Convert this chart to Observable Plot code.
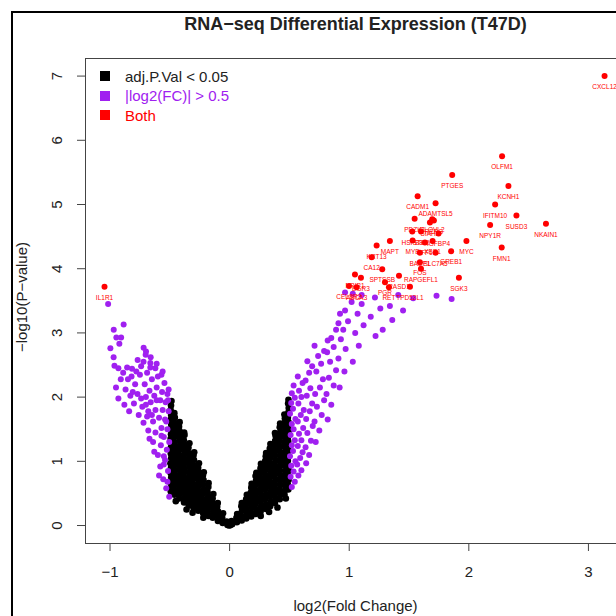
<!DOCTYPE html>
<html>
<head>
<meta charset="utf-8">
<script src="https://cdn.jsdelivr.net/npm/d3@7"></script>
<script src="https://cdn.jsdelivr.net/npm/@observablehq/plot@0.6"></script>
<style>
  html, body { margin: 0; padding: 0; background: #fff; }
  #wrap { position: relative; width: 616px; height: 616px; overflow: hidden; background: #fff; font-family: "Liberation Sans", Arial, Helvetica, sans-serif; }
  #outer { position: absolute; left: 11px; top: 11px; width: 720px; height: 720px; border-left: 2px solid #000; border-top: 2px solid #000; }
  #chart { position: absolute; left: 0; top: 0; width: 626px; }
  #chart svg { max-width: none !important; }
  .lg { position: absolute; left: 100px; height: 18px; display: flex; align-items: center; font-size: 15px; white-space: nowrap; }
  .lg span.sq { display: inline-block; width: 10px; height: 10px; margin-right: 15px; }
</style>
</head>
<body>
<div id="wrap">
  <div id="outer"></div>
  <div id="chart"></div>
  <div id="legend"></div>
</div>
<script>
// ---------- data ----------
const chartTitle = "RNA\u2212seq Differential Expression (T47D)";
const xTitle = "log2(Fold Change)";
const yTitle = "\u2212log10(P\u2212value)";
const xTicks = [-1, 0, 1, 2, 3];
const yTicks = [0, 1, 2, 3, 4, 5, 6, 7];

const legendLabels = ["adj.P.Val < 0.05", "|log2(FC)| > 0.5", "Both"];
const legendColors = ["#000000", "#A020F0", "#FF0000"];

// black: non-significant cloud [log2FC, -log10 P]
const blackPts = [
  [-0.005,0.0],[0.005,0.005],
  [-0.018,0.01],[-0.025,0.06],
  [-0.058,0.04],[-0.062,0.12],[-0.055,0.19],
  [-0.098,0.07],[-0.103,0.15],[-0.097,0.22],[-0.104,0.29],[-0.099,0.35],
  [-0.141,0.12],[-0.137,0.19],[-0.143,0.27],[-0.138,0.34],[-0.142,0.42],[-0.136,0.49],
  [-0.178,0.15],[-0.183,0.22],[-0.177,0.30],[-0.182,0.37],[-0.179,0.45],[-0.184,0.52],[-0.178,0.60],[-0.176,0.66],
  [-0.221,0.19],[-0.218,0.26],[-0.223,0.34],[-0.219,0.41],[-0.224,0.49],[-0.217,0.56],[-0.222,0.64],[-0.218,0.71],[-0.223,0.78],[-0.216,0.83],
  [-0.262,0.23],[-0.258,0.30],[-0.263,0.38],[-0.257,0.45],[-0.261,0.53],[-0.264,0.60],[-0.259,0.68],[-0.262,0.75],[-0.257,0.83],[-0.263,0.90],[-0.256,0.97],
  [-0.301,0.27],[-0.297,0.34],[-0.303,0.42],[-0.298,0.49],[-0.302,0.57],[-0.299,0.64],[-0.304,0.72],[-0.297,0.79],[-0.301,0.87],[-0.303,0.94],[-0.298,1.02],[-0.302,1.09],[-0.296,1.14],
  [-0.342,0.31],[-0.338,0.38],[-0.343,0.46],[-0.337,0.53],[-0.341,0.61],[-0.344,0.68],[-0.339,0.76],[-0.342,0.83],[-0.337,0.91],[-0.343,0.98],[-0.338,1.06],[-0.341,1.13],[-0.344,1.21],[-0.336,1.28],
  [-0.381,0.36],[-0.377,0.43],[-0.383,0.51],[-0.378,0.58],[-0.382,0.66],[-0.379,0.73],[-0.384,0.81],[-0.377,0.88],[-0.381,0.96],[-0.383,1.03],[-0.378,1.11],[-0.382,1.18],[-0.379,1.26],[-0.383,1.33],[-0.377,1.41],[-0.380,1.45],
  [-0.421,0.42],[-0.418,0.49],[-0.423,0.57],[-0.419,0.64],[-0.422,0.72],[-0.417,0.79],[-0.424,0.87],[-0.419,0.94],[-0.421,1.02],[-0.418,1.09],[-0.423,1.17],[-0.420,1.24],[-0.417,1.32],[-0.422,1.39],[-0.419,1.47],[-0.423,1.54],[-0.418,1.61],
  [-0.461,0.48],[-0.457,0.55],[-0.463,0.63],[-0.458,0.70],[-0.462,0.78],[-0.459,0.85],[-0.464,0.93],[-0.457,1.00],[-0.461,1.08],[-0.463,1.15],[-0.458,1.23],[-0.462,1.30],[-0.459,1.38],[-0.463,1.45],[-0.457,1.53],[-0.461,1.60],[-0.458,1.68],[-0.462,1.75],
  [-0.492,0.53],[-0.489,0.60],[-0.494,0.67],[-0.488,0.75],[-0.493,0.82],[-0.490,0.90],[-0.495,0.97],[-0.488,1.05],[-0.492,1.12],[-0.494,1.20],[-0.489,1.27],[-0.493,1.35],[-0.490,1.42],[-0.494,1.50],[-0.488,1.57],[-0.492,1.65],[-0.489,1.72],[-0.493,1.80],[-0.490,1.87],[-0.486,1.94],
  [-0.36,0.25],[-0.22,0.12],[-0.45,0.38],[-0.31,0.20],
  [-0.079,0.11],[-0.12,0.25],[-0.16,0.40],[-0.20,0.55],[-0.24,0.70],[-0.28,0.86],[-0.32,1.00],[-0.36,1.15],[-0.40,1.30],[-0.44,1.47],[-0.475,1.62],
  [-0.20,0.30],[-0.28,0.45],[-0.36,0.60],[-0.44,0.75],[-0.32,0.70],[-0.40,0.90],[-0.44,1.10],[-0.475,1.30],[-0.475,0.95],[-0.40,0.55],
  [0.021,0.02],[0.016,0.07],
  [0.061,0.05],[0.057,0.12],[0.063,0.18],
  [0.101,0.08],[0.097,0.15],[0.103,0.23],[0.098,0.30],[0.102,0.35],
  [0.139,0.11],[0.143,0.18],[0.137,0.26],[0.142,0.33],[0.138,0.41],[0.144,0.48],
  [0.181,0.14],[0.177,0.21],[0.183,0.29],[0.178,0.36],[0.182,0.44],[0.176,0.51],[0.181,0.59],[0.184,0.65],
  [0.219,0.18],[0.223,0.25],[0.217,0.33],[0.222,0.40],[0.218,0.48],[0.224,0.55],[0.219,0.63],[0.221,0.70],[0.217,0.77],[0.223,0.82],
  [0.259,0.22],[0.263,0.29],[0.257,0.37],[0.262,0.44],[0.258,0.52],[0.264,0.59],[0.260,0.67],[0.256,0.74],[0.263,0.82],[0.258,0.89],[0.262,0.96],
  [0.299,0.26],[0.303,0.33],[0.297,0.41],[0.302,0.48],[0.298,0.56],[0.304,0.63],[0.299,0.71],[0.301,0.78],[0.297,0.86],[0.303,0.93],[0.298,1.01],[0.302,1.08],[0.305,1.13],
  [0.339,0.30],[0.343,0.37],[0.337,0.45],[0.342,0.52],[0.338,0.60],[0.344,0.67],[0.339,0.75],[0.341,0.82],[0.337,0.90],[0.343,0.97],[0.338,1.05],[0.342,1.12],[0.336,1.20],[0.341,1.27],
  [0.379,0.35],[0.383,0.42],[0.377,0.50],[0.382,0.57],[0.378,0.65],[0.384,0.72],[0.379,0.80],[0.381,0.87],[0.377,0.95],[0.383,1.02],[0.378,1.10],[0.382,1.17],[0.376,1.25],[0.381,1.32],[0.384,1.40],[0.379,1.44],
  [0.419,0.41],[0.423,0.48],[0.417,0.56],[0.422,0.63],[0.418,0.71],[0.424,0.78],[0.419,0.86],[0.421,0.93],[0.417,1.01],[0.423,1.08],[0.418,1.16],[0.422,1.23],[0.416,1.31],[0.421,1.38],[0.424,1.46],[0.419,1.53],[0.422,1.59],
  [0.459,0.48],[0.463,0.55],[0.457,0.63],[0.462,0.70],[0.458,0.78],[0.464,0.85],[0.459,0.93],[0.461,1.00],[0.457,1.08],[0.463,1.15],[0.458,1.23],[0.462,1.30],[0.456,1.38],[0.461,1.45],[0.464,1.53],[0.459,1.60],[0.462,1.67],[0.458,1.73],
  [0.491,0.56],[0.488,0.63],[0.493,0.71],[0.489,0.78],[0.494,0.86],[0.490,0.93],[0.487,1.01],[0.492,1.08],[0.489,1.16],[0.494,1.23],[0.490,1.31],[0.488,1.38],[0.493,1.46],[0.489,1.53],[0.492,1.61],[0.487,1.68],[0.491,1.76],[0.494,1.83],[0.489,1.90],[0.492,1.96],
  [0.26,0.15],[0.40,0.28],[0.47,0.42],[0.33,0.21],
  [0.079,0.11],[0.12,0.25],[0.16,0.40],[0.20,0.55],[0.24,0.70],[0.28,0.85],[0.32,1.00],[0.36,1.15],[0.40,1.30],[0.44,1.45],[0.475,1.62],
  [0.20,0.30],[0.28,0.45],[0.36,0.60],[0.44,0.75],[0.32,0.70],[0.40,0.90],[0.44,1.10],[0.475,1.30],[0.475,0.95],[0.40,0.55]
];

// purple: |log2FC| > 0.5 only
const purplePts = [
  [-1.016,3.45],[-0.886,3.13],[-0.969,3.05],[-0.947,2.93],[-0.907,2.93],[-0.922,2.83],[-0.997,2.76],[-0.719,2.77],[-0.699,2.71],[-0.702,2.66],[-0.769,2.58],[-0.663,2.53],[-0.963,2.49],[-0.857,2.46],[-0.816,2.44],[-0.663,2.46],[-0.621,2.45],
  [-0.93,1.98],[-0.88,1.88],[-0.84,1.78],[-0.95,2.15],[-0.91,2.28],[-0.87,2.12],[-0.83,2.02],[-0.80,1.90],[-0.79,2.20],[-0.82,2.32],[-0.76,1.72],[-0.77,2.05],[-0.75,2.35],[-0.74,2.48],[-0.73,1.85],[-0.72,1.60],[-0.71,2.20],[-0.70,2.00],[-0.69,2.38],[-0.68,1.48],[-0.68,1.78],[-0.67,2.10],[-0.66,1.92],[-0.65,2.28],[-0.64,1.30],[-0.64,1.62],[-0.63,2.02],[-0.62,1.45],[-0.62,1.80],[-0.61,2.15],[-0.60,2.32],[-0.60,1.10],[-0.59,1.68],[-0.58,1.95],[-0.58,0.92],[-0.575,1.25],[-0.57,1.52],[-0.565,2.08],[-0.56,1.80],[-0.555,0.72],[-0.55,1.38],[-0.545,2.22],[-0.54,1.02],[-0.54,1.65],[-0.535,1.92],[-0.53,0.58],[-0.525,1.18],[-0.52,1.50],[-0.52,2.05],[-0.515,0.85],[-0.51,1.78],[-0.505,0.45],[-0.505,1.30],
  [-0.57,2.35],[-0.61,2.52],[-0.66,2.62],[-0.63,1.15],[-0.59,0.78],[-0.55,1.08],[-0.53,1.62],[-0.515,1.95],[-0.51,2.12],[-0.56,2.40],[-0.69,1.70],[-0.72,2.55],[-0.74,1.98],[-0.78,2.40],[-0.81,2.08],[-0.85,2.28],[-0.89,2.38],[-0.97,2.62],[-0.93,2.45],[-0.55,0.95],[-0.52,0.68],[-0.57,1.40],[-0.61,1.95],[-0.65,1.72],[-0.70,1.88],[-0.67,1.35],
  [0.52,0.60],[0.545,0.68],[0.51,0.76],[0.535,0.84],[0.515,0.93],[0.55,1.00],[0.505,1.08],[0.53,1.16],[0.52,1.25],[0.545,1.33],[0.51,1.41],[0.535,1.50],[0.52,1.58],[0.55,1.66],[0.505,1.74],[0.53,1.82],[0.515,1.91],[0.545,1.99],[0.52,2.06],[0.535,2.18],
  [0.575,0.78],[0.60,0.86],[0.565,0.95],[0.59,1.05],[0.61,1.14],[0.57,1.24],[0.60,1.33],[0.58,1.43],[0.615,1.52],[0.57,1.62],[0.595,1.72],[0.62,1.80],[0.575,1.90],[0.60,2.00],[0.58,2.10],[0.61,2.22],[0.57,2.32],
  [0.64,0.97],[0.665,1.10],[0.635,1.22],[0.68,1.32],[0.65,1.44],[0.695,1.55],[0.64,1.66],[0.67,1.78],[0.69,1.90],[0.645,2.02],[0.675,2.14],[0.635,2.26],[0.665,2.38],[0.69,2.48],[0.65,2.56],
  [0.72,1.30],[0.75,1.48],[0.71,1.62],[0.77,1.72],[0.73,1.85],[0.79,1.95],[0.715,2.05],[0.755,2.15],[0.78,2.28],[0.725,2.40],[0.765,2.52],[0.74,2.64],[0.79,2.72],[0.71,2.80],
  [0.82,1.65],[0.85,1.88],[0.81,2.05],[0.87,2.18],[0.83,2.30],[0.89,2.42],[0.84,2.55],[0.815,2.70],[0.87,2.78],[0.85,2.92],[0.89,3.05],[0.82,2.88],
  [0.92,2.15],[0.96,2.40],[0.91,2.60],[0.97,2.75],[0.93,2.90],[0.95,3.05],[0.99,3.18],[0.923,3.30],[0.965,3.35],[0.91,3.15],
  [1.03,2.55],[1.08,2.80],[1.05,3.00],[1.12,3.12],[1.02,3.48],[1.104,3.45],[0.965,3.63],[1.03,3.61],[1.104,3.59],[1.18,3.25],[1.07,3.30],
  [1.215,3.55],[1.34,3.42],[1.41,3.59],[1.535,3.54],[1.73,3.58],[1.856,3.53],[1.28,3.05],[1.36,3.20],[1.22,2.95],[1.45,3.35],[1.26,3.38]
];

// red: both criteria, labelled
const redGenes = ["CXCL12","IL1R1","OLFM1","PTGES","KCNH1","CADM1","ADAMTSL5","IFITM10","SUSD3","NKAIN1","NPY1R","PDZK1","SIAH2","ELOVL2","RERG","HSPB8","STC2","IGFBP4","MAPT","MYB","TFF1","XBP1","MYC","KRT13","BASP1","SLC7A5","GREB1","FMN1","CA12","FOS","RAPGEFL1","SPTSSB","NRIP1","EGR3","RASD1","SGK3","PGR","RET","TPD52L1","CELSR2","ABCA3"];
const redFC    = [3.135,-1.046,2.278,1.861,2.331,1.572,1.722,2.220,2.398,2.645,2.178,1.547,1.675,1.694,1.708,1.527,1.600,1.747,1.340,1.530,1.633,1.697,1.980,1.229,1.591,1.722,1.852,2.275,1.188,1.591,1.600,1.276,1.048,1.098,1.416,1.917,1.299,1.332,1.508,0.998,1.062];
const redLogP  = [7.00,3.72,5.75,5.46,5.29,5.13,5.02,5.00,4.83,4.70,4.68,4.78,4.72,4.77,4.75,4.58,4.58,4.55,4.43,4.44,4.41,4.43,4.43,4.36,4.25,4.25,4.27,4.33,4.18,4.10,4.00,3.99,3.91,3.86,3.89,3.86,3.79,3.71,3.72,3.73,3.71];

// ---------- build tables ----------
const black = blackPts.map(([fc, p]) => ({fc, p}));
const purple = purplePts.map(([fc, p]) => ({fc, p}));
const red = redGenes.map((g, i) => ({gene: g, fc: redFC[i], p: redLogP[i]}));

const fmt = d => (d < 0 ? "\u2212" + Math.abs(d) : String(d));
const font = "'Liberation Sans', Arial, Helvetica, sans-serif";

const chart = Plot.plot({
  width: 626,
  height: 616,
  marginLeft: 85,
  marginRight: 1,
  marginTop: 58,
  marginBottom: 73,
  x: {domain: [-1.205, 3.31]},
  y: {domain: [-0.28, 7.274]},
  style: {fontFamily: font, background: "transparent", overflow: "visible", maxWidth: "none"},
  marks: [
    Plot.dot(black, {x: "fc", y: "p", r: 3.3, fill: "#000"}),
    Plot.dot(purple, {x: "fc", y: "p", r: 3, fill: "#A020F0"}),
    Plot.dot(red, {x: "fc", y: "p", r: 3, fill: "#FF0000"}),
    Plot.text(red, {x: "fc", y: "p", text: "gene", dy: 11, fontSize: 6.5, fill: "#FF0000"}),
    Plot.frame({stroke: "#444", strokeWidth: 1}),
    Plot.axisX({ticks: xTicks, tickSize: 8, tickFormat: () => "", stroke: "#444", label: null}),
    Plot.axisY({ticks: yTicks, tickSize: 8, tickFormat: () => "", stroke: "#444", label: null}),
    Plot.text(xTicks, {x: d => d, frameAnchor: "bottom", dy: 33, text: fmt, fontSize: 15, fill: "#222"}),
    Plot.text(yTicks, {y: d => d, frameAnchor: "left", textAnchor: "middle", dx: -28, rotate: -90, text: fmt, fontSize: 15, fill: "#222"}),
    Plot.text([chartTitle], {frameAnchor: "top", dy: -41, text: d => d, fontSize: 18, fontWeight: "bold", fill: "#222"}),
    Plot.text([xTitle], {frameAnchor: "bottom", dy: 67, text: d => d, fontSize: 15, fill: "#222"}),
    Plot.text([yTitle], {frameAnchor: "left", textAnchor: "middle", dx: -63.5, dy: -4, rotate: -90, text: d => d, fontSize: 15, fill: "#222"})
  ]
});
document.getElementById("chart").appendChild(chart);

// legend (R style, top-left inside plot)
const lg = document.getElementById("legend");
const rowCenters = [76, 95.5, 115];
legendLabels.forEach((lab, i) => {
  const row = document.createElement("div");
  row.className = "lg";
  row.style.top = (rowCenters[i] - 9) + "px";
  const sq = document.createElement("span");
  sq.className = "sq";
  sq.style.background = legendColors[i];
  const tx = document.createElement("span");
  tx.textContent = lab;
  tx.style.color = i === 0 ? "#222" : legendColors[i];
  row.appendChild(sq);
  row.appendChild(tx);
  lg.appendChild(row);
});
</script>
</body>
</html>
